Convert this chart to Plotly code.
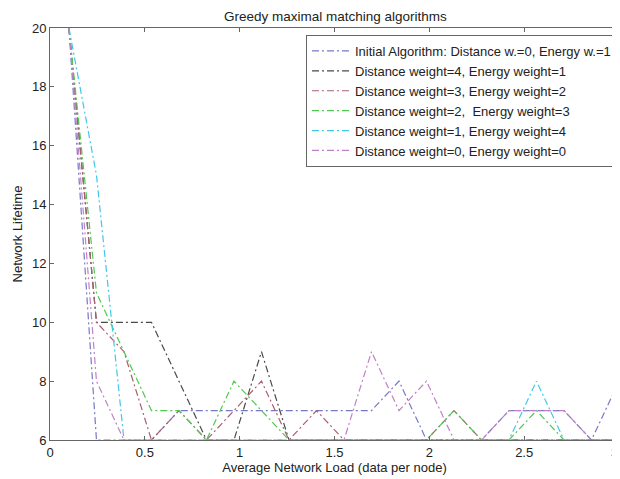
import plotly.graph_objects as go

x_load = [0.1, 0.245, 0.39, 0.535, 0.68, 0.825, 0.97, 1.115, 1.26, 1.405, 1.55,
          1.695, 1.84, 1.985, 2.13, 2.275, 2.42, 2.565, 2.71, 2.855, 3.0]

names = [
    "Initial Algorithm: Distance w.=0, Energy w.=1",
    "Distance weight=4, Energy weight=1",
    "Distance weight=3, Energy weight=2",
    "Distance weight=2,  Energy weight=3",
    "Distance weight=1, Energy weight=4",
    "Distance weight=0, Energy weight=0",
]

initial = [20, 6, 6, 6, 7, 7, 7, 7, 7, 7, 7, 7, 8, 6, 6, 6, 7, 7, 7, 6, 8]
d4_e1 = [20, 10, 10, 10, 8, 6, 6, 9, 6, 6, 6, 6, 6, 6, 6, 6, 6, 6, 6, 6, 6]
d3_e2 = [20, 10, 9, 6, 7, 6, 7, 8, 6, 7, 6, 6, 6, 6, 7, 6, 6, 6, 6, 6, 6]
d2_e3 = [20, 11, 9, 7, 7, 6, 8, 7, 6, 6, 6, 6, 6, 6, 7, 6, 6, 7, 6, 6, 6]
d1_e4 = [20, 15, 6, 6, 6, 6, 6, 6, 6, 6, 6, 6, 6, 6, 6, 6, 6, 8, 6, 6, 6]
d0_e0 = [20, 8, 6, 6, 6, 6, 6, 6, 6, 6, 6, 9, 7, 8, 6, 6, 7, 7, 7, 6, 6]

x_ticks = [0, 0.5, 1, 1.5, 2, 2.5, 3]
x_tick_text = ["0", "0.5", "1", "1.5", "2", "2.5", "3"]
y_ticks = [6, 8, 10, 12, 14, 16, 18, 20]

series = [initial, d4_e1, d3_e2, d2_e3, d1_e4, d0_e0]
colors = ["#7878c8", "#4a4a4a", "#a86070", "#50c850", "#40c8e8", "#c080c8"]

fig = go.Figure()
for name, ys, c in zip(names, series, colors):
    fig.add_trace(go.Scatter(
        x=x_load, y=ys, mode="lines", name=name,
        line=dict(color=c, width=1.2, dash="7px,3px,2px,3px"),
    ))

font = "Liberation Sans, Arial, sans-serif"
axis_common = dict(
    showgrid=False, zeroline=False, showline=True, linecolor="#666", linewidth=1,
    mirror="ticks", ticks="inside", ticklen=4, tickcolor="#666",
    tickfont=dict(family=font, size=13, color="#222"),
)
fig.update_layout(
    width=612, height=471,
    margin=dict(l=42, r=1, t=20, b=39),
    paper_bgcolor="white", plot_bgcolor="white",
    title=dict(text="Greedy maximal matching algorithms", x=0.535, xanchor="center",
               y=0.982, yanchor="middle", font=dict(family=font, size=13.5, color="#222")),
    xaxis=dict(range=[0, 3], tickvals=x_ticks[:-1], ticktext=x_tick_text[:-1],
               title=dict(text="Average Network Load (data per node)", standoff=2,
                          font=dict(family=font, size=13, color="#222")),
               **axis_common),
    yaxis=dict(range=[6, 20], tickvals=y_ticks,
               title=dict(text="Network Lifetime", standoff=6,
                          font=dict(family=font, size=13, color="#222")),
               **axis_common),
    legend=dict(x=0.9965, xanchor="right", y=0.983, yanchor="top",
                bgcolor="white", bordercolor="#666", borderwidth=1,
                font=dict(family=font, size=13, color="#222"),
                tracegroupgap=0, itemwidth=38),
    showlegend=True,
)
# last x tick label at the right edge of the axes
fig.add_annotation(x=1, xref="paper", y=0, yref="paper", yanchor="top",
                   xanchor="right", xshift=1, yshift=-3, text=x_tick_text[-1],
                   showarrow=False, font=dict(family=font, size=13, color="#222"))
fig.write_html("out.html")
